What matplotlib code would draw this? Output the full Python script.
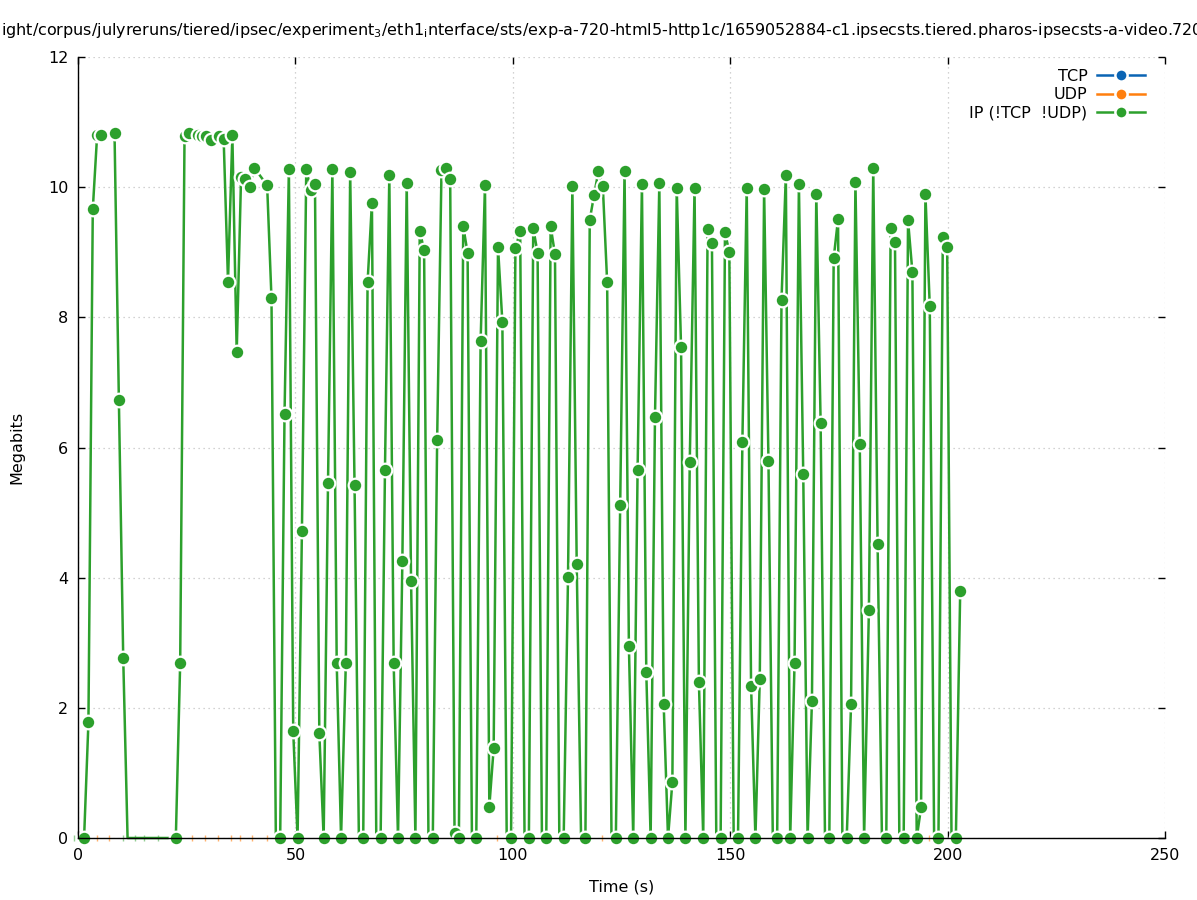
import matplotlib
matplotlib.use("Agg")
import matplotlib.pyplot as plt
from matplotlib.lines import Line2D

# ---------------- data ----------------
# IP (!TCP !UDP) series: time (s) and Megabits per sample
ip_time = [
    1.4, 2.4, 3.4, 4.4, 5.4, 8.4, 9.4, 10.4, 11.4,
    22.5, 23.5, 24.5, 25.5, 27.5, 28.5, 29.5, 30.5, 32.5, 33.5, 34.5, 35.5,
    36.5, 37.5, 38.5, 39.5, 40.5, 43.5, 44.5, 45.5, 46.5, 47.5, 48.5, 49.5,
    50.5, 51.5, 52.5, 53.5, 54.5, 55.5, 56.5, 57.5, 58.5, 59.5, 60.5,
    61.6, 62.6, 63.6, 64.6, 65.6, 66.6, 67.6, 68.6, 69.6, 70.6, 71.6, 72.6,
    73.6, 74.6, 75.6, 76.6, 77.6, 78.6, 79.6, 80.6, 81.6, 82.6, 83.6, 84.6,
    85.6, 86.6, 87.6, 88.6, 89.6, 90.6, 91.6, 92.6, 93.6, 94.6, 95.6, 96.6,
    97.6, 98.6, 99.6, 100.6,
    101.7, 102.7, 103.7, 104.7, 105.7, 106.7, 107.7, 108.7, 109.7, 110.7,
    111.7, 112.7, 113.7, 114.7, 115.7, 116.7, 117.7, 118.7, 119.7, 120.7,
    121.7, 122.7, 123.7, 124.7, 125.7, 126.7, 127.7, 128.7, 129.7, 130.7,
    131.7, 132.7, 133.7, 134.7, 135.7, 136.7, 137.7, 138.7, 139.7, 140.7,
    141.8, 142.8, 143.8, 144.8, 145.8, 146.8, 147.8, 148.8, 149.8, 150.8,
    151.8, 152.8, 153.8, 154.8, 155.8, 156.8, 157.8, 158.8, 159.8, 160.8,
    161.8, 162.8, 163.8, 164.8, 165.8, 166.8, 167.8, 168.8, 169.8, 170.8,
    171.8, 172.8, 173.8, 174.8, 175.8, 176.8, 177.8, 178.8, 179.8, 180.8,
    181.9, 182.9, 183.9, 184.9, 185.9, 186.9, 187.9, 188.9, 189.9, 190.9,
    191.9, 192.9, 193.9, 194.9, 195.9, 196.9, 197.9, 198.9, 199.9, 200.9,
    201.9, 202.9,
]
ip_mbits = [
    0.0, 1.78, 9.66, 10.8, 10.8, 10.83, 6.73, 2.77, 0.0,
    0.0, 2.69, 10.79, 10.83, 10.8, 10.78, 10.78, 10.72, 10.78, 10.74, 8.55, 10.8,
    7.46, 10.15, 10.12, 10.0, 10.3, 10.03, 8.29, 0.0, 0.0, 6.52, 10.28, 1.64,
    0.0, 4.72, 10.28, 9.96, 10.05, 1.61, 0.0, 5.46, 10.28, 2.69, 0.0,
    2.69, 10.23, 5.43, 0.0, 0.0, 8.54, 9.76, 0.0, 0.0, 5.66, 10.19, 2.69,
    0.0, 4.25, 10.07, 3.95, 0.0, 9.33, 9.03, 0.0, 0.0, 6.12, 10.26, 10.3,
    10.12, 0.08, 0.0, 9.4, 8.99, 0.0, 0.0, 7.64, 10.03, 0.48, 1.38, 9.08,
    7.93, 0.0, 0.0, 9.06,
    9.33, 0.0, 0.0, 9.37, 8.99, 0.0, 0.0, 9.4, 8.97, 0.0,
    0.0, 4.01, 10.02, 4.21, 0.0, 0.0, 9.5, 9.88, 10.25, 10.02,
    8.54, 0.0, 0.0, 5.12, 10.25, 2.95, 0.0, 5.65, 10.05, 2.55,
    0.0, 6.47, 10.06, 2.06, 0.0, 0.86, 9.99, 7.54, 0.0, 5.78,
    9.99, 2.4, 0.0, 9.36, 9.14, 0.0, 0.0, 9.31, 9.0, 0.0,
    0.0, 6.08, 9.99, 2.34, 0.0, 2.44, 9.97, 5.79, 0.0, 0.0,
    8.27, 10.19, 0.0, 2.69, 10.05, 5.59, 0.0, 2.1, 9.9, 6.37,
    0.0, 0.0, 8.91, 9.51, 0.0, 0.0, 2.06, 10.08, 6.05, 0.0,
    3.5, 10.3, 4.52, 0.0, 0.0, 9.37, 9.15, 0.0, 0.0, 9.49,
    8.7, 0.0, 0.47, 9.89, 8.17, 0.0, 0.0, 9.23, 9.08, 0.0,
    0.0, 3.8,
]
# samples whose point symbol is not visible in the reference
ip_unmarked_times = [11.4, 45.5, 64.6, 68.6, 80.6, 90.6, 98.6, 102.7, 106.7,
                     110.7, 115.7, 122.7, 146.8, 150.8, 159.8, 171.8, 175.8,
                     184.9, 188.9, 196.9, 200.9]

# small residual UDP / IP marks sitting on the zero line
udp_zero_times = [4.3, 7.2, 26.3, 29.3, 32.3, 35.3, 37.2, 40.1, 43.4, 96.3, 120.5, 195.8]
ip_zero_tick_times = [-0.9, 10.3, 13.1, 15.2, 18.3]

series_labels = ["TCP", "UDP", "IP (!TCP  !UDP)"]
x_ticks = [0, 50, 100, 150, 200, 250]
y_ticks = [0, 2, 4, 6, 8, 10, 12]
title_text = (r"ight/corpus/julyreruns/tiered/ipsec/experiment$_3$/eth1$_{\mathrm{i}}$nterface"
              r"/sts/exp-a-720-html5-http1c/1659052884-c1.ipsecsts.tiered.pharos-ipsecsts-a-video.720p.json")

# ---------------- style ----------------
C_TCP = "#0a64b4"
C_UDP = "#ff7f0e"
C_IP = "#2ca02c"
FS = 11.5
MS = 8.2        # point size (pt)
MS_BG = 11.4    # white blank area behind each point (pt)

plt.rcParams["font.family"] = ["DejaVu Sans"]
plt.rcParams["mathtext.fontset"] = "dejavusans"

fig = plt.figure(figsize=(11.97, 9.0), dpi=100)
ax = fig.add_axes([78 / 1197, 62 / 900, (1165 - 78) / 1197, (838 - 57) / 900])

ax.set_xlim(0, 250)
ax.set_ylim(0, 12)
ax.set_xticks(x_ticks)
ax.set_yticks(y_ticks)
ax.tick_params(direction="in", length=5, width=1, top=True, right=True,
               labelsize=FS, pad=7, colors="black")
for side in ("top", "right"):
    ax.spines[side].set_visible(False)
for side in ("left", "bottom"):
    ax.spines[side].set_linewidth(1.0)
    ax.spines[side].set_color("black")
    ax.spines[side].set_zorder(50)

ax.grid(True, color="#c4c4c4", linestyle=(0, (1, 3)), linewidth=0.9)
ax.set_axisbelow(True)

# residual zero marks
ax.plot(udp_zero_times, [0] * len(udp_zero_times), ls="none", marker="|", ms=4,
        mew=1.0, color=C_UDP, alpha=0.6, clip_on=False, zorder=1.5)
ax.plot(ip_zero_tick_times, [0] * len(ip_zero_tick_times), ls="none", marker="|", ms=4,
        mew=1.0, color=C_IP, alpha=0.5, clip_on=False, zorder=1.5)

# line
ax.plot(ip_time, ip_mbits, color=C_IP, lw=1.8, clip_on=False, zorder=2)
# points, each with a blank (white) area behind it, drawn in time order
for i, (t, v) in enumerate(zip(ip_time, ip_mbits)):
    if t in ip_unmarked_times:
        continue
    z = 3 + i * 0.01
    ax.plot([t], [v], ls="none", marker="o", ms=MS_BG, mfc="white", mec="none",
            clip_on=False, zorder=z)
    ax.plot([t], [v], ls="none", marker="o", ms=MS, mfc=C_IP, mec="none",
            clip_on=False, zorder=z + 0.005)

ax.set_xlabel("Time (s)", fontsize=FS, labelpad=12)
ax.set_ylabel("Megabits", fontsize=FS, labelpad=17)

fig.text(0.001, 0.966, title_text, ha="left", va="center", fontsize=FS)

handles = [
    Line2D([], [], color=c, lw=1.8, marker="o", ms=MS + 0.6, mfc=c, mec="white", mew=1.8)
    for c in (C_TCP, C_UDP, C_IP)
]
fig.legend(handles, series_labels, loc="upper right",
           bbox_to_anchor=(1145 / 1197, 1 - 69 / 900), frameon=False,
           markerfirst=False, handlelength=3.0, handletextpad=0.6,
           labelspacing=0.2, borderpad=0, borderaxespad=0, fontsize=FS,
           numpoints=1)

fig.savefig("out.png", dpi=100)
